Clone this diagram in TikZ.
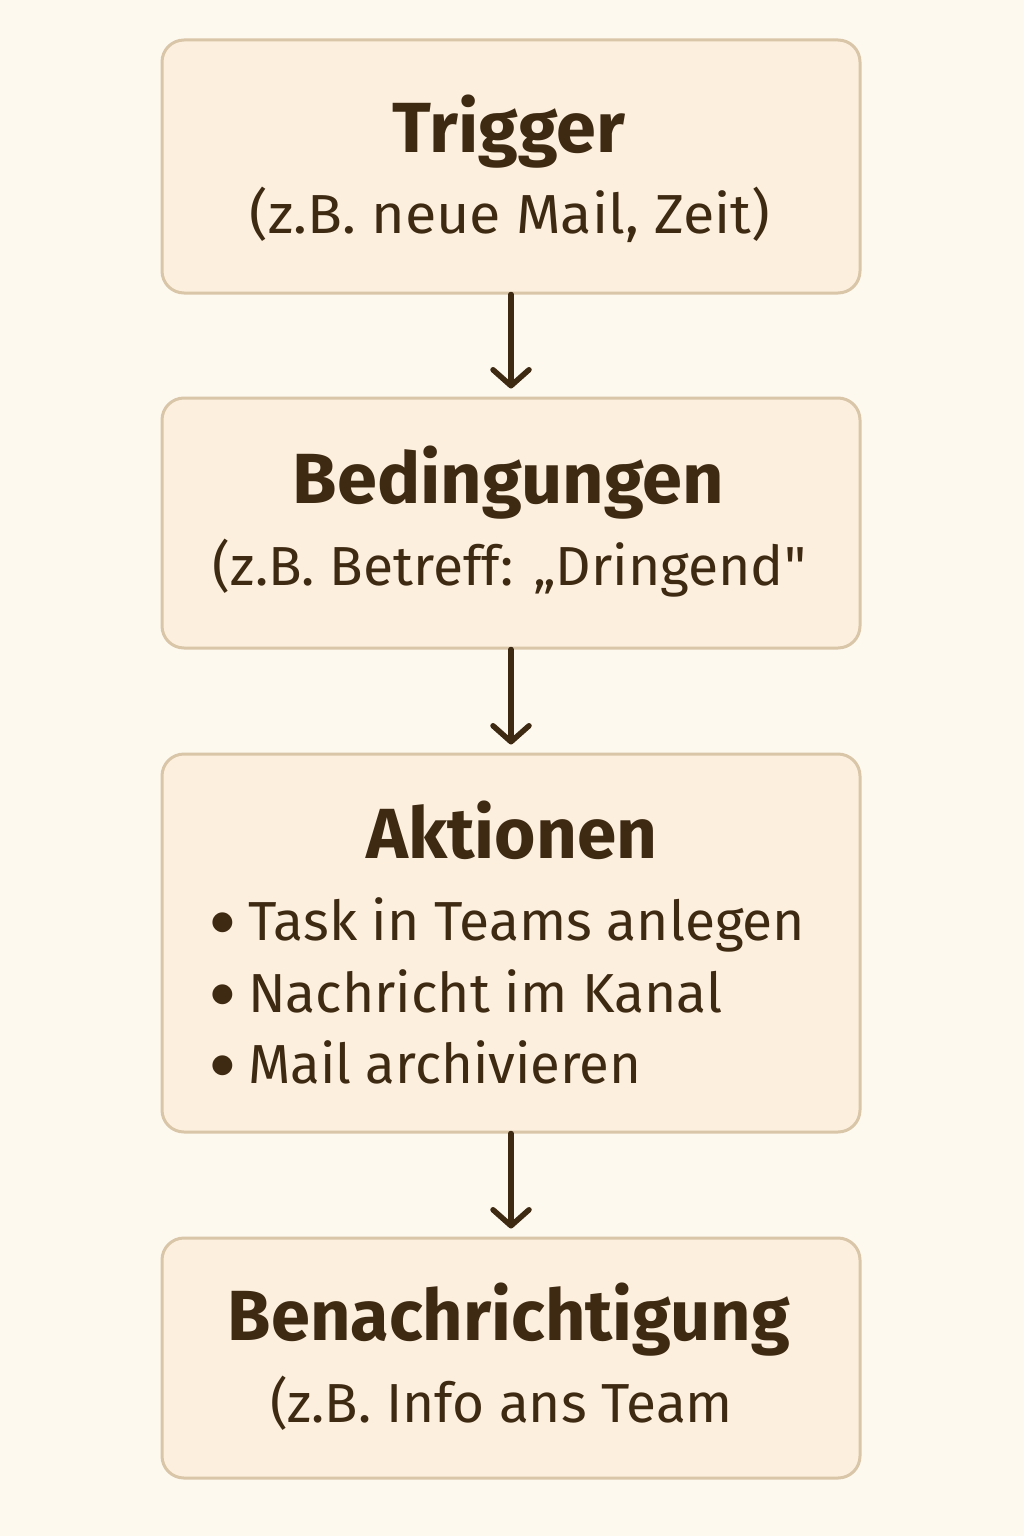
\documentclass[tikz,border=0pt]{standalone}
\usepackage{fontspec}
\setmainfont{Fira Sans}
\newfontfamily\rawfira{Fira Sans}
\newfontfamily\dejavu{DejaVu Sans}
\usepackage{graphicx}
\usetikzlibrary{arrows.meta}
\definecolor{bg}{HTML}{FEF9EF}
\definecolor{boxfill}{HTML}{FCEFDD}
\definecolor{boxline}{HTML}{D9C5A8}
\definecolor{ink}{HTML}{3E2A13}
\newcommand{\fitw}[2]{\resizebox{#1pt}{\height}{#2}}
\tikzset{
  card/.style={draw=boxline, fill=boxfill, line width=3pt, rounded corners=22pt,
    minimum width=698pt, inner sep=0pt},
  ttl/.style={anchor=base, inner sep=0pt, text=ink, font=\fontsize{71}{80}\selectfont\bfseries},
  sub/.style={anchor=base, inner sep=0pt, text=ink, font=\fontsize{55}{64}\selectfont},
  bul/.style={anchor=base west, inner sep=0pt, text=ink, font=\fontsize{55}{64}\selectfont},
  dot/.style={anchor=center, inner sep=0pt, text=ink, font=\dejavu\fontsize{26}{26}\selectfont},
  flow/.style={draw=ink, line width=5.5pt, line cap=round,
    -{Straight Barb[round, length=16pt, width=36pt, line width=5.5pt]}, shorten >=8pt}
}
\begin{document}
\begin{tikzpicture}[x=1pt,y=-1pt]
\useasboundingbox (0,0) rectangle (1024,1536);
\fill[bg] (0,0) rectangle (1024,1536);
% boxes
\node[card, minimum height=253pt] (b1) at (511,166.5) {};
\node[card, minimum height=250pt] (b2) at (511,523) {};
\node[card, minimum height=378pt] (b3) at (511,943) {};
\node[card, minimum height=240pt] (b4) at (511,1358) {};
% texts
\node[ttl] (t1) at (509,152) {\fitw{232}{Trigger}};
\node[sub] (s1) at (510,233) {\fitw{520}{(z.B. neue Mail, Zeit)}};
\node[ttl] (t2) at (508.5,503) {\fitw{431}{Bedingungen}};
\node[sub] (s2) at (509.5,585) {\fitw{593}{(z.B. Betreff: „Dringend{\rawfira "}}};
\node[ttl] (t3) at (512,858) {\fitw{291}{Aktionen}};
\node[dot] (d1) at (222.5,923) {●};
\node[dot] (d2) at (222.5,995) {●};
\node[dot] (d3) at (222.5,1066) {●};
\node[bul] (l1) at (248,940) {\fitw{557}{Task in Teams anlegen}};
\node[bul] (l2) at (248,1012) {\fitw{474}{Nachricht im Kanal}};
\node[bul] (l3) at (248,1083) {\fitw{393}{Mail archivieren}};
\node[ttl] (t4) at (509,1340) {\fitw{562}{Benachrichtigung}};
\node[sub] (s4) at (501.5,1422) {\fitw{463}{(z.B. Info ans Team}};
% arrows
\draw[flow] (b1.south) -- (b2.north);
\draw[flow] (b2.south) -- (b3.north);
\draw[flow] (b3.south) -- (b4.north);
\end{tikzpicture}
\end{document}
